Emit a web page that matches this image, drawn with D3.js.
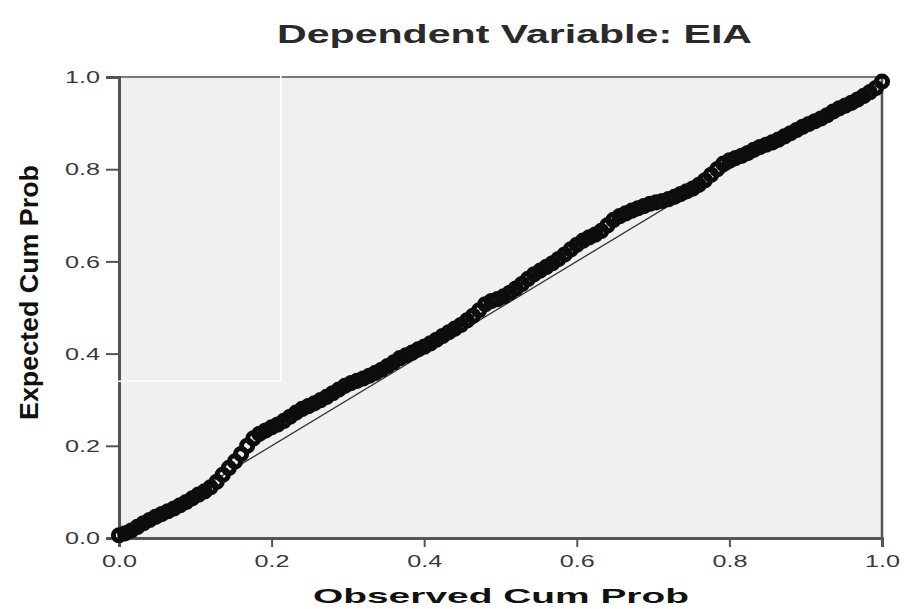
<!DOCTYPE html>
<html>
<head>
<meta charset="utf-8">
<script src="https://cdn.jsdelivr.net/npm/d3@7"></script>
<style>
  html, body { margin: 0; padding: 0; background: #fff; }
  svg { display: block; }
  text { font-family: "Liberation Sans", Arial, sans-serif; }
</style>
</head>
<body>
<svg id="chart" width="904" height="609"></svg>
<script>
// ---------- DATA ----------
const titleText = "Dependent Variable: EIA";
const xLabel = "Observed Cum Prob";
const yLabel = "Expected Cum Prob";
const tickValues = [0.0, 0.2, 0.4, 0.6, 0.8, 1.0];
const tickLabels = ["0.0", "0.2", "0.4", "0.6", "0.8", "1.0"];

const observed = [
  0.000, 0.008, 0.016, 0.024, 0.032, 0.040, 0.048, 0.056, 0.064, 0.072,
  0.080, 0.088, 0.096, 0.104, 0.112, 0.120, 0.128, 0.136, 0.144, 0.152,
  0.160, 0.168, 0.176, 0.184, 0.192, 0.200, 0.208, 0.216, 0.224, 0.232,
  0.240, 0.248, 0.256, 0.264, 0.272, 0.280, 0.288, 0.296, 0.304, 0.312,
  0.320, 0.328, 0.336, 0.344, 0.352, 0.360, 0.368, 0.376, 0.384, 0.392,
  0.400, 0.408, 0.416, 0.424, 0.432, 0.440, 0.448, 0.456, 0.464, 0.472,
  0.480, 0.488, 0.496, 0.504, 0.512, 0.520, 0.528, 0.536, 0.544, 0.552,
  0.560, 0.568, 0.576, 0.584, 0.592, 0.600, 0.608, 0.616, 0.624, 0.632,
  0.640, 0.648, 0.656, 0.664, 0.672, 0.680, 0.688, 0.696, 0.704, 0.712,
  0.720, 0.728, 0.736, 0.744, 0.752, 0.760, 0.768, 0.776, 0.784, 0.792,
  0.800, 0.808, 0.816, 0.824, 0.832, 0.840, 0.848, 0.856, 0.864, 0.872,
  0.880, 0.888, 0.896, 0.904, 0.912, 0.920, 0.928, 0.936, 0.944, 0.952,
  0.960, 0.968, 0.976, 0.984, 0.992, 1.000
];
const expected = [
  0.006, 0.010, 0.016, 0.024, 0.032, 0.039, 0.046, 0.052, 0.058, 0.064,
  0.071, 0.078, 0.086, 0.094, 0.101, 0.110, 0.122, 0.137, 0.152, 0.166,
  0.182, 0.200, 0.216, 0.226, 0.233, 0.240, 0.246, 0.254, 0.263, 0.272,
  0.280, 0.286, 0.292, 0.299, 0.306, 0.314, 0.322, 0.330, 0.336, 0.341,
  0.346, 0.352, 0.358, 0.365, 0.373, 0.381, 0.390, 0.396, 0.402, 0.409,
  0.415, 0.422, 0.430, 0.438, 0.446, 0.454, 0.462, 0.472, 0.482, 0.494,
  0.507, 0.514, 0.518, 0.524, 0.532, 0.541, 0.551, 0.562, 0.572, 0.580,
  0.588, 0.596, 0.605, 0.615, 0.626, 0.636, 0.645, 0.652, 0.658, 0.666,
  0.678, 0.690, 0.698, 0.704, 0.710, 0.715, 0.720, 0.725, 0.728, 0.731,
  0.735, 0.740, 0.746, 0.752, 0.758, 0.766, 0.776, 0.788, 0.800, 0.812,
  0.819, 0.824, 0.829, 0.835, 0.842, 0.848, 0.853, 0.858, 0.864, 0.871,
  0.878, 0.885, 0.892, 0.898, 0.904, 0.910, 0.917, 0.925, 0.932, 0.938,
  0.944, 0.951, 0.959, 0.967, 0.976, 0.990
];
const referenceLine = [[0, 0], [1, 1]];
const whiteMark = { x: 0.212, y: 0.34 };

// ---------- LAYOUT ----------
const svg = d3.select("#chart");
const plot = { left: 119, right: 882, top: 77, bottom: 538 };

const x = d3.scaleLinear().domain([0, 1]).range([plot.left, plot.right]);
const y = d3.scaleLinear().domain([0, 1]).range([plot.bottom, plot.top]);

// plot background
svg.append("rect")
  .attr("x", plot.left).attr("y", plot.top)
  .attr("width", plot.right - plot.left).attr("height", plot.bottom - plot.top)
  .attr("fill", "#f0f0f0");

// top & right frame
svg.append("line")
  .attr("x1", plot.left).attr("x2", plot.right).attr("y1", plot.top).attr("y2", plot.top)
  .attr("stroke", "#7a7a7a").attr("stroke-width", 2);
svg.append("line")
  .attr("x1", plot.right).attr("x2", plot.right).attr("y1", plot.top).attr("y2", plot.bottom)
  .attr("stroke", "#555").attr("stroke-width", 2.5);

// axes
const xAxis = d3.axisBottom(x).tickValues(tickValues)
  .tickFormat((d, i) => tickLabels[i]).tickSize(9).tickPadding(5);
const yAxis = d3.axisLeft(y).tickValues(tickValues)
  .tickFormat((d, i) => tickLabels[i]).tickSize(13).tickPadding(6);

const gx = svg.append("g").attr("transform", `translate(0,${plot.bottom})`).call(xAxis);
const gy = svg.append("g").attr("transform", `translate(${plot.left},0)`).call(yAxis);

[gx, gy].forEach(g => {
  g.select(".domain").attr("stroke", "#555").attr("stroke-width", 3);
  g.selectAll(".tick line").attr("stroke", "#555").attr("stroke-width", 2);
  g.selectAll(".tick text")
    .attr("fill", "#3a3a3a")
    .style("font-family", "'Liberation Sans', Arial, sans-serif")
    .style("font-size", "16px")
    .attr("textLength", 35).attr("lengthAdjust", "spacingAndGlyphs");
});
gx.selectAll(".tick text").attr("dy", "0.95em");
gy.selectAll(".tick text").attr("dy", "0.36em");

// reference line
svg.append("line")
  .attr("x1", x(referenceLine[0][0])).attr("y1", y(referenceLine[0][1]))
  .attr("x2", x(referenceLine[1][0])).attr("y2", y(referenceLine[1][1]))
  .attr("stroke", "#333").attr("stroke-width", 1.3);

// points
const pts = observed.map((o, i) => ({ o, e: expected[i] }));
svg.append("g").selectAll("circle").data(pts).join("circle")
  .attr("cx", d => x(d.o)).attr("cy", d => y(d.e))
  .attr("r", 5.6)
  .attr("fill", "none")
  .attr("stroke", "#0d0d0d")
  .attr("stroke-width", 5);

// white artifact lines
svg.append("line")
  .attr("x1", x(whiteMark.x)).attr("x2", x(whiteMark.x))
  .attr("y1", plot.top - 2).attr("y2", y(whiteMark.y))
  .attr("stroke", "#fff").attr("stroke-width", 1.5);
svg.append("line")
  .attr("x1", plot.left - 3).attr("x2", x(whiteMark.x))
  .attr("y1", y(whiteMark.y)).attr("y2", y(whiteMark.y))
  .attr("stroke", "#fff").attr("stroke-width", 1.5);

// title
svg.append("text")
  .attr("x", 277).attr("y", 43)
  .attr("textLength", 475).attr("lengthAdjust", "spacingAndGlyphs")
  .style("font-size", "25px").style("font-weight", "bold")
  .attr("fill", "#2a2a2a")
  .text(titleText);

// x label
svg.append("text")
  .attr("x", 313).attr("y", 603)
  .attr("textLength", 376).attr("lengthAdjust", "spacingAndGlyphs")
  .style("font-size", "21px").style("font-weight", "bold")
  .attr("fill", "#111")
  .text(xLabel);

// y label
svg.append("text")
  .attr("transform", "translate(38,420) rotate(-90)")
  .attr("x", 0).attr("y", 0)
  .attr("textLength", 255).attr("lengthAdjust", "spacingAndGlyphs")
  .style("font-size", "25px").style("font-weight", "bold")
  .attr("fill", "#111")
  .text(yLabel);
</script>
</body>
</html>
